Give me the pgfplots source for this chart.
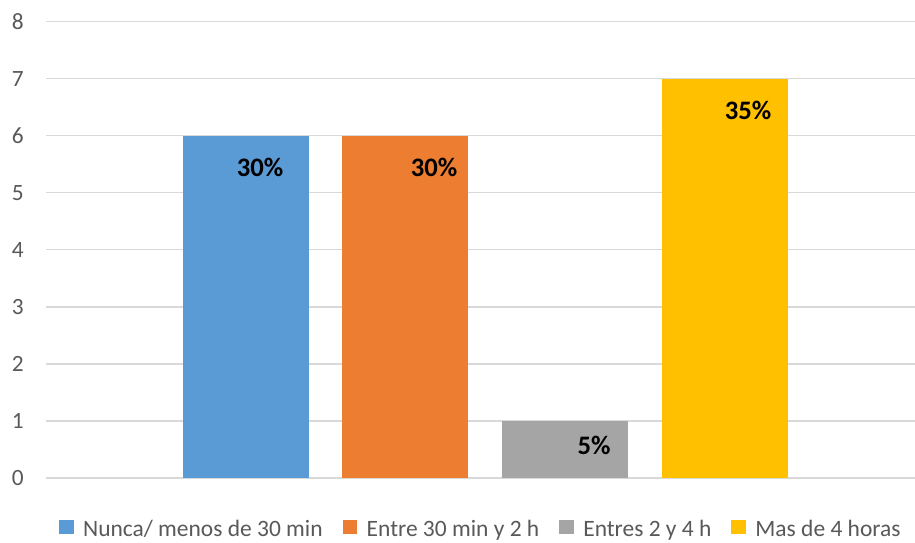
\documentclass[border=0pt]{standalone}
\usepackage{pgfplots}
\pgfplotsset{compat=1.18}
\usepackage{fontspec}
\setmainfont{Carlito}

\definecolor{cblue}{HTML}{5B9BD5}
\definecolor{corange}{HTML}{ED7D31}
\definecolor{cgray}{HTML}{A5A5A5}
\definecolor{cyellow}{HTML}{FFC000}
\definecolor{gridgray}{HTML}{D9D9D9}
\definecolor{textgray}{HTML}{595959}

\begin{document}
\begin{tikzpicture}
\begin{axis}[
  scale only axis,
  width=651.75pt, height=342.375pt,
  xmin=0, xmax=869, ymin=0, ymax=8,
  ytick={0,...,8}, xtick=\empty,
  ymajorgrids,
  grid style={draw=gridgray, line width=1.1pt},
  axis line style={draw=none},
  major tick length=0pt,
  /pgf/number format/assume math mode=true,
  yticklabel style={font=\fontsize{17.5}{19}\selectfont, text=textgray,
    inner sep=0pt, anchor=east, xshift=-16.5pt},
  point meta=explicit symbolic,
  nodes near coords,
  every node near coord/.append style={anchor=center,
    font=\bfseries\fontsize{20}{24}\selectfont, text=black},
  legend columns=-1,
  legend style={draw=none, at={(0.5,-0.113)}, anchor=center,
    inner sep=0pt, nodes={inner sep=1pt},
    font=\fontsize{17.6}{19}\selectfont, text=textgray,
    /tikz/every odd column/.append style={column sep=6pt},
    /tikz/every even column/.append style={column sep=14pt}},
  legend image code/.code={\fill[#1] (0pt,-3.5pt) rectangle (11pt,7pt);},
]
% one bar per answer, positioned in px-like axis units
\addplot[ybar, bar width=126, bar shift=0pt, fill=cblue, draw=none,
  every node near coord/.append style={xshift=10.5pt, yshift=-24pt}]
  coordinates {(200,6) [30\%]};
\addlegendentry{Nunca/ menos de 30 min}
\addplot[ybar, bar width=126, bar shift=0pt, fill=corange, draw=none,
  every node near coord/.append style={xshift=21.75pt, yshift=-24pt}]
  coordinates {(359,6) [30\%]};
\addlegendentry{Entre 30 min y 2 h}
\addplot[ybar, bar width=126, bar shift=0pt, fill=cgray, draw=none,
  every node near coord/.append style={xshift=21.75pt, yshift=-18.4pt}]
  coordinates {(519,1) [5\%]};
\addlegendentry{Entres 2 y 4 h}
\addplot[ybar, bar width=126, bar shift=0pt, fill=cyellow, draw=none,
  every node near coord/.append style={xshift=17.25pt, yshift=-24pt}]
  coordinates {(679,7) [35\%]};
\addlegendentry{Mas de 4 horas}
\end{axis}
\pgfresetboundingbox
\path (-34.5pt,-48.75pt) rectangle (651.75pt,358.5pt);
\end{tikzpicture}
\end{document}
